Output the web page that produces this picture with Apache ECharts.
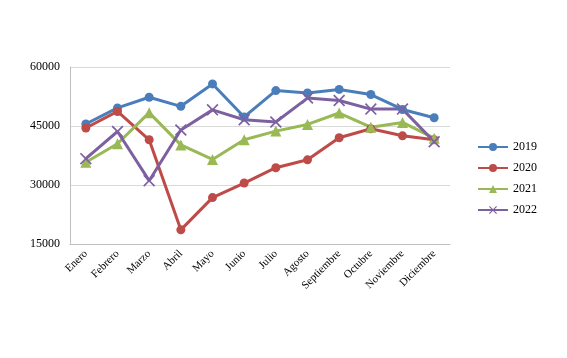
<!DOCTYPE html>
<html>
<head>
<meta charset="utf-8">
<script src="https://cdn.jsdelivr.net/npm/echarts@6/dist/echarts.min.js"></script>
<style>
  html, body { margin: 0; padding: 0; background: #fff; }
  #chart { width: 567px; height: 358px; }
</style>
</head>
<body>
<div id="chart"></div>
<script>
// meses / valores por año
var months = ["Enero", "Febrero", "Marzo", "Abril", "Mayo", "Junio", "Julio",
  "Agosto", "Septiembre", "Octubre", "Noviembre", "Diciembre"];
var data2019 = [45500, 49600, 52300, 50000, 55700, 47300, 54000, 53400, 54300, 53000, 49200, 47100];
var data2020 = [44500, 48700, 41500, 18600, 26800, 30500, 34400, 36400, 42000, 44300, 42500, 41500];
var data2021 = [35800, 40500, 48400, 40200, 36500, 41500, 43700, 45400, 48300, 44700, 45900, 41900];
var data2022 = [36700, 43600, 31100, 44000, 49100, 46600, 46000, 52100, 51500, 49300, 49300, 41000];
var yTicks = [15000, 30000, 45000, 60000];

var crossPath = "path://M0,1L1,0L5,4L9,0L10,1L6,5L10,9L9,10L5,6L1,10L0,9L4,5Z";
var labelFont = "Liberation Serif";

var myChart = echarts.init(document.getElementById("chart"));

function lineSeries(name, data, color, symbol, size) {
  return {
    name: name,
    type: "line",
    data: data,
    symbol: symbol,
    symbolSize: size,
    lineStyle: { width: 3, color: color },
    itemStyle: { color: color },
    emphasis: { disabled: true }
  };
}

var option = {
  animation: false,
  color: ["#4A7EBB", "#BE4B48", "#98B954", "#7D60A0"],
  grid: { left: 70, right: 117, top: 67, bottom: 114 },
  legend: {
    orient: "vertical",
    left: 472,
    top: 136,
    itemGap: 9,
    itemWidth: 30,
    itemHeight: 10,
    textStyle: { fontFamily: labelFont, fontSize: 12, color: "#000" },
    data: ["2019", "2020", "2021", "2022"]
  },
  xAxis: {
    type: "category",
    data: months,
    boundaryGap: true,
    axisLine: { show: true, lineStyle: { color: "#bfbfbf", width: 1 } },
    axisTick: { show: false },
    axisLabel: {
      interval: 0,
      rotate: 45,
      margin: 8,
      fontFamily: labelFont,
      fontSize: 11,
      color: "#000"
    }
  },
  yAxis: {
    type: "value",
    min: yTicks[0],
    max: yTicks[yTicks.length - 1],
    interval: 15000,
    axisLine: { show: true, lineStyle: { color: "#bfbfbf", width: 1 } },
    axisTick: { show: false },
    axisLabel: {
      fontFamily: labelFont,
      fontSize: 12,
      color: "#000",
      margin: 10,
      formatter: function (v) { return String(v); }
    },
    splitLine: { show: true, lineStyle: { color: "#d9d9d9", width: 1 } }
  },
  series: [
    lineSeries("2019", data2019, "#4A7EBB", "circle", 9),
    lineSeries("2020", data2020, "#BE4B48", "circle", 9),
    lineSeries("2021", data2021, "#98B954", "triangle", 11),
    lineSeries("2022", data2022, "#7D60A0", crossPath, 12)
  ]
};

myChart.setOption(option);
</script>
</body>
</html>
